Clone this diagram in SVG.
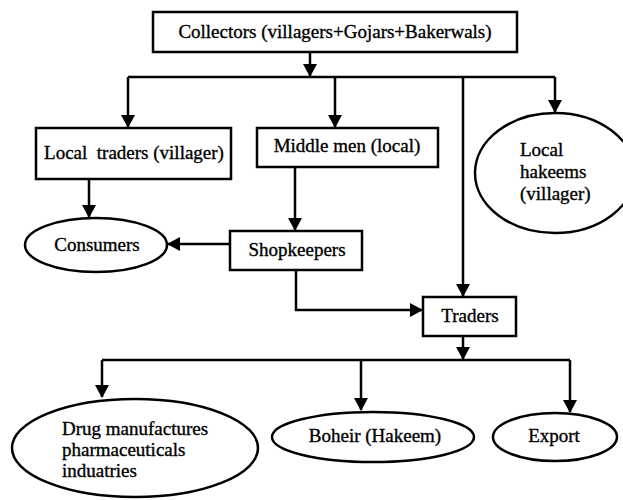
<svg xmlns="http://www.w3.org/2000/svg" width="623" height="500" viewBox="0 0 623 500">
<style>
.box{fill:#fff;stroke:#000;stroke-width:2.5}
.ell{fill:#fff;stroke:#000;stroke-width:2.5}
.t{font-family:"Liberation Serif","Times New Roman",Times,serif;font-size:19px;fill:#000;stroke:#000;stroke-width:0.35}
.c{text-anchor:middle}
.ln{fill:none;stroke:#000;stroke-width:2.5}
</style>
<defs>
<marker id="ah" markerUnits="userSpaceOnUse" markerWidth="13" markerHeight="14" refX="12" refY="7" orient="auto">
<path d="M0,0 L13,7 L0,14 z" fill="#000"/>
</marker>
</defs>
<rect width="623" height="500" fill="#fff"/>
<g id="connectors">
<path class="ln" d="M310,52 V76" marker-end="url(#ah)"/>
<path class="ln" d="M128,77 H555"/>
<path class="ln" d="M128,77 V127" marker-end="url(#ah)"/>
<path class="ln" d="M335,77 V127" marker-end="url(#ah)"/>
<path class="ln" d="M463,77 V296" marker-end="url(#ah)"/>
<path class="ln" d="M555,77 V112" marker-end="url(#ah)"/>
<path class="ln" d="M89,179 V217" marker-end="url(#ah)"/>
<path class="ln" d="M295,167 V230" marker-end="url(#ah)"/>
<path class="ln" d="M230,244 H168" marker-end="url(#ah)"/>
<path class="ln" d="M296,270 V310 H422" marker-end="url(#ah)"/>
<path class="ln" d="M463,336 V359" marker-end="url(#ah)"/>
<path class="ln" d="M102,360 H570"/>
<path class="ln" d="M102,360 V397" marker-end="url(#ah)"/>
<path class="ln" d="M361,360 V410" marker-end="url(#ah)"/>
<path class="ln" d="M570,360 V412" marker-end="url(#ah)"/>
</g>
<g id="collectors">
<rect class="box" x="153" y="12" width="364" height="40"/>
<text class="t c" x="335" y="38">Collectors (villagers+Gojars+Bakerwals)</text>
</g>
<g id="local-traders">
<rect class="box" x="36" y="128" width="195" height="51"/>
<text class="t c" x="134" y="159" style="white-space:pre">Local  traders (villager)</text>
</g>
<g id="middle-men">
<rect class="box" x="257" y="128" width="181" height="39"/>
<text class="t c" x="347" y="152">Middle men (local)</text>
</g>
<g id="local-hakeems">
<ellipse class="ell" cx="555" cy="173" rx="80" ry="60"/>
<text class="t" x="520" y="156">Local</text>
<text class="t" x="520" y="178">hakeems</text>
<text class="t" x="520" y="200">(villager)</text>
</g>
<g id="consumers">
<ellipse class="ell" cx="96" cy="245" rx="71" ry="27"/>
<text class="t c" x="97" y="251">Consumers</text>
</g>
<g id="shopkeepers">
<rect class="box" x="230" y="231" width="132" height="39"/>
<text class="t c" x="297" y="256">Shopkeepers</text>
</g>
<g id="traders">
<rect class="box" x="423" y="297" width="93" height="39"/>
<text class="t c" x="470" y="322">Traders</text>
</g>
<g id="drug-manufactures">
<ellipse class="ell" cx="135" cy="448" rx="123" ry="49"/>
<text class="t" x="62" y="435">Drug manufactures</text>
<text class="t" x="62" y="456">pharmaceuticals</text>
<text class="t" x="62" y="477">induatries</text>
</g>
<g id="boheir">
<ellipse class="ell" cx="373" cy="437" rx="101" ry="25"/>
<text class="t c" x="375" y="442">Boheir (Hakeem)</text>
</g>
<g id="export">
<ellipse class="ell" cx="555" cy="437" rx="62" ry="24"/>
<text class="t c" x="554" y="442">Export</text>
</g>
</svg>
